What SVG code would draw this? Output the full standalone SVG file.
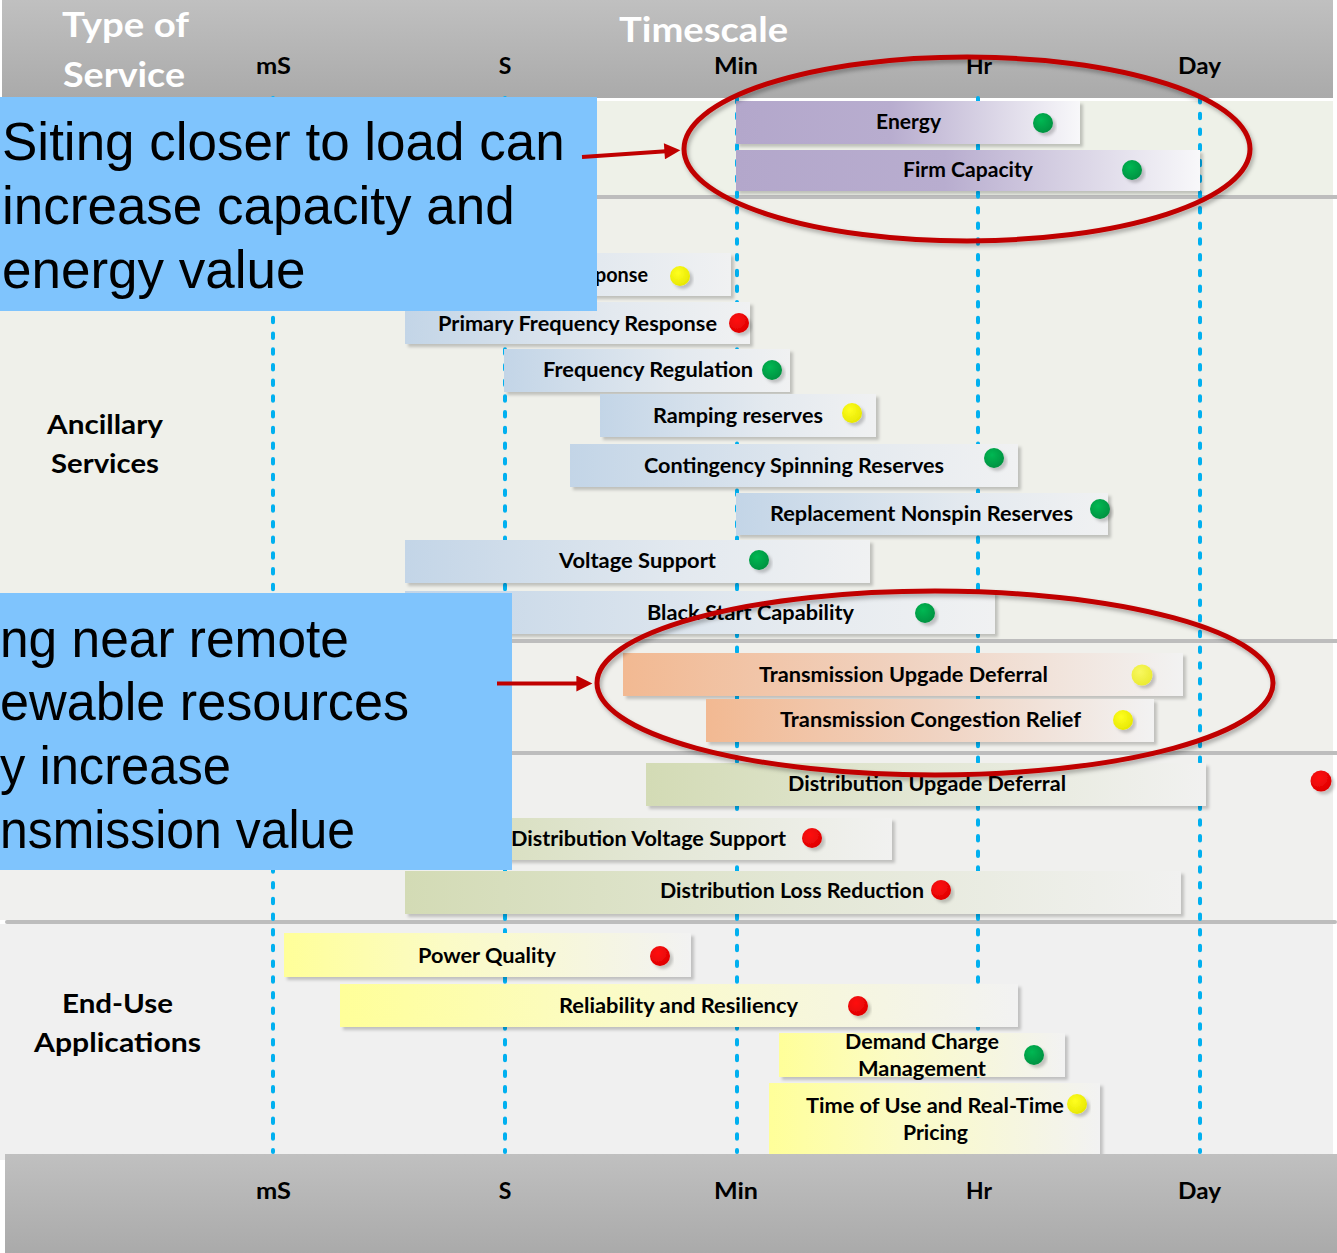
<svg xmlns="http://www.w3.org/2000/svg" width="1337" height="1253" viewBox="0 0 1337 1253">
<style>
.hdr{font-family:Lato,"Liberation Sans",sans-serif;font-weight:700;fill:#ffffff;font-size:34px}
.ax{font-family:Lato,"Liberation Sans",sans-serif;font-weight:700;fill:#000;font-size:23px}
.cat{font-family:Lato,"Liberation Sans",sans-serif;font-weight:700;fill:#000;font-size:27px}
.lbl{font-family:Lato,"Liberation Sans",sans-serif;font-weight:700;fill:#000;font-size:20.5px}
.note{font-family:"Liberation Sans",Arial,sans-serif;fill:#000;font-size:53px}
.sep{fill:#bdbdbd}
.grid{stroke:#00b0f0;stroke-width:4;stroke-linecap:round;stroke-dasharray:4.5 11.2;fill:none}
.bar{filter:url(#sh)}
.ring{fill:none;stroke:#c00000;stroke-width:5;filter:url(#sh2)}
.arrow{stroke:#c00000;stroke-width:4;fill:none;marker-end:url(#ah)}
.box{fill:#7fc4fd}
.dot{filter:url(#sh)}
</style>
<defs>
<linearGradient id="hg" x1="0" y1="0" x2="0" y2="1"><stop offset="0" stop-color="#c0c0c0"/><stop offset="1" stop-color="#aaaaaa"/></linearGradient>
<linearGradient id="gP" x1="0" y1="0" x2="1" y2="0"><stop offset="0" stop-color="#b3a7cb"/><stop offset="0.45" stop-color="#b8adcf"/><stop offset="1" stop-color="#f8f8fa"/></linearGradient>
<linearGradient id="gB" x1="0" y1="0" x2="1" y2="0"><stop offset="0" stop-color="#c3d5e7"/><stop offset="0.6" stop-color="#e3e9ef"/><stop offset="1" stop-color="#f0f1f2"/></linearGradient>
<linearGradient id="gO" x1="0" y1="0" x2="1" y2="0"><stop offset="0" stop-color="#f2b992"/><stop offset="0.5" stop-color="#f0d2c0"/><stop offset="1" stop-color="#f2f2f2"/></linearGradient>
<linearGradient id="gG" x1="0" y1="0" x2="1" y2="0"><stop offset="0" stop-color="#d3dbb5"/><stop offset="0.5" stop-color="#e3e7d5"/><stop offset="1" stop-color="#f1f1f0"/></linearGradient>
<linearGradient id="gY" x1="0" y1="0" x2="1" y2="0"><stop offset="0" stop-color="#ffff99"/><stop offset="0.4" stop-color="#fbfbc6"/><stop offset="1" stop-color="#f2f2f2"/></linearGradient>
<radialGradient id="dG" cx="0.4" cy="0.35" r="0.7"><stop offset="0" stop-color="#00b853"/><stop offset="1" stop-color="#009040"/></radialGradient>
<radialGradient id="dR" cx="0.4" cy="0.35" r="0.7"><stop offset="0" stop-color="#ff1010"/><stop offset="1" stop-color="#dd0000"/></radialGradient>
<radialGradient id="dY" cx="0.4" cy="0.35" r="0.7"><stop offset="0" stop-color="#ffff20"/><stop offset="1" stop-color="#e6e600"/></radialGradient>
<radialGradient id="dY2" cx="0.4" cy="0.35" r="0.7"><stop offset="0" stop-color="#f8f860"/><stop offset="1" stop-color="#eaea30"/></radialGradient>
<filter id="sh" x="-10%" y="-20%" width="130%" height="160%"><feDropShadow dx="3" dy="3" stdDeviation="1.5" flood-color="#000" flood-opacity="0.2"/></filter>
<filter id="sh2" x="-10%" y="-10%" width="130%" height="130%"><feDropShadow dx="2" dy="3" stdDeviation="2" flood-color="#000" flood-opacity="0.3"/></filter>
<marker id="ah" viewBox="0 0 10 10" markerWidth="4.5" markerHeight="4" refX="1" refY="5" orient="auto" markerUnits="strokeWidth"><path d="M0,0 L10,5 L0,10 z" fill="#c00000"/></marker>
</defs>

<rect x="0" y="0" width="1337" height="1253" fill="#ffffff"/>

<g id="frame">
<rect x="2" y="0" width="1331" height="98" fill="url(#hg)"/>
<rect x="0" y="101" width="1333" height="94" fill="#eef1e8"/>
<rect x="0" y="199" width="1333" height="440" fill="#eff0ea"/>
<rect x="0" y="643" width="1333" height="108" fill="#f0f0ec"/>
<rect x="0" y="755" width="1333" height="165" fill="#f0f0ee"/>
<rect x="0" y="924" width="1333" height="236" fill="#f0f0f0"/>
<rect class="sep" x="0" y="195" width="1337" height="4"/>
<rect class="sep" x="0" y="639" width="1337" height="4"/>
<rect class="sep" x="0" y="751" width="1337" height="4"/>
<rect class="sep" x="5" y="920" width="1332" height="4" rx="2"/>
<text class="hdr" x="62" y="37" textLength="127" lengthAdjust="spacingAndGlyphs">Type of</text>
<text class="hdr" x="63" y="87" textLength="122" lengthAdjust="spacingAndGlyphs">Service</text>
<text class="hdr" x="619" y="42" textLength="169" lengthAdjust="spacingAndGlyphs">Timescale</text>
<text class="ax" x="256" y="74" textLength="35" lengthAdjust="spacingAndGlyphs">mS</text>
<text class="ax" x="505" y="74" text-anchor="middle">S</text>
<text class="ax" x="714" y="74" textLength="44" lengthAdjust="spacingAndGlyphs">Min</text>
<text class="ax" x="966" y="74" textLength="26" lengthAdjust="spacingAndGlyphs">Hr</text>
<text class="ax" x="1178" y="74" textLength="43" lengthAdjust="spacingAndGlyphs">Day</text>
<text class="cat" x="47" y="434" textLength="116" lengthAdjust="spacingAndGlyphs">Ancillary</text>
<text class="cat" x="51" y="473" textLength="108" lengthAdjust="spacingAndGlyphs">Services</text>
<text class="cat" x="62" y="1013" textLength="111" lengthAdjust="spacingAndGlyphs">End-Use</text>
<text class="cat" x="34" y="1052" textLength="167" lengthAdjust="spacingAndGlyphs">Applications</text>
</g>

<g id="gridlines">
<line class="grid" x1="273" y1="98" x2="273" y2="1152"/>
<line class="grid" x1="505" y1="98" x2="505" y2="1152"/>
<line class="grid" x1="737" y1="98" x2="737" y2="1152"/>
<line class="grid" x1="978" y1="98" x2="978" y2="1152"/>
<line class="grid" x1="1200" y1="98" x2="1200" y2="1152"/>
</g>

<g id="energy"><rect class="bar" x="736" y="101" width="344" height="43" fill="url(#gP)"/><text class="lbl" x="876" y="129" textLength="65" lengthAdjust="spacingAndGlyphs">Energy</text><circle class="dot" cx="1043" cy="123" r="10" fill="url(#dG)"/></g>
<g id="firm-capacity"><rect class="bar" x="736" y="150" width="464" height="41" fill="url(#gP)"/><text class="lbl" x="903" y="177" textLength="130" lengthAdjust="spacingAndGlyphs">Firm Capacity</text><circle class="dot" cx="1132" cy="170" r="10" fill="url(#dG)"/></g>
<g id="fast-response"><rect class="bar" x="405" y="253" width="326" height="43" fill="url(#gB)"/><text class="lbl" x="595" y="282" textLength="53" lengthAdjust="spacingAndGlyphs">ponse</text><circle class="dot" cx="680" cy="276" r="10" fill="url(#dY)"/></g>
<g id="primary-frequency-response"><rect class="bar" x="405" y="302" width="345" height="42" fill="url(#gB)"/><text class="lbl" x="438" y="331" textLength="279" lengthAdjust="spacingAndGlyphs">Primary Frequency Response</text><circle class="dot" cx="739" cy="323" r="10" fill="url(#dR)"/></g>
<g id="frequency-regulation"><rect class="bar" x="504" y="349" width="286" height="43" fill="url(#gB)"/><text class="lbl" x="543" y="377" textLength="210" lengthAdjust="spacingAndGlyphs">Frequency Regulation</text><circle class="dot" cx="772" cy="370" r="10" fill="url(#dG)"/></g>
<g id="ramping-reserves"><rect class="bar" x="600" y="394" width="276" height="43" fill="url(#gB)"/><text class="lbl" x="653" y="423" textLength="170" lengthAdjust="spacingAndGlyphs">Ramping reserves</text><circle class="dot" cx="852" cy="413" r="10" fill="url(#dY)"/></g>
<g id="contingency-spinning"><rect class="bar" x="570" y="444" width="448" height="43" fill="url(#gB)"/><text class="lbl" x="644" y="473" textLength="300" lengthAdjust="spacingAndGlyphs">Contingency Spinning Reserves</text><circle class="dot" cx="994" cy="458" r="10" fill="url(#dG)"/></g>
<g id="replacement-nonspin"><rect class="bar" x="736" y="493" width="372" height="42" fill="url(#gB)"/><text class="lbl" x="770" y="521" textLength="303" lengthAdjust="spacingAndGlyphs">Replacement Nonspin Reserves</text><circle class="dot" cx="1100" cy="509" r="10" fill="url(#dG)"/></g>
<g id="voltage-support"><rect class="bar" x="405" y="540" width="465" height="43" fill="url(#gB)"/><text class="lbl" x="559" y="568" textLength="157" lengthAdjust="spacingAndGlyphs">Voltage Support</text><circle class="dot" cx="759" cy="560" r="10" fill="url(#dG)"/></g>
<g id="black-start"><rect class="bar" x="405" y="591" width="590" height="43" fill="url(#gB)"/><text class="lbl" x="647" y="620" textLength="207" lengthAdjust="spacingAndGlyphs">Black Start Capability</text><circle class="dot" cx="925" cy="613" r="10" fill="url(#dG)"/></g>
<g id="transmission-upgrade"><rect class="bar" x="623" y="653" width="560" height="43" fill="url(#gO)"/><text class="lbl" x="759" y="682" textLength="289" lengthAdjust="spacingAndGlyphs">Transmission Upgade Deferral</text><circle class="dot" cx="1142" cy="675" r="10.5" fill="url(#dY2)"/></g>
<g id="transmission-congestion"><rect class="bar" x="706" y="699" width="448" height="43" fill="url(#gO)"/><text class="lbl" x="780" y="727" textLength="301" lengthAdjust="spacingAndGlyphs">Transmission Congestion Relief</text><circle class="dot" cx="1123" cy="720" r="10" fill="url(#dY)"/></g>
<g id="distribution-upgrade"><rect class="bar" x="646" y="763" width="560" height="43" fill="url(#gG)"/><text class="lbl" x="788" y="791" textLength="278" lengthAdjust="spacingAndGlyphs">Distribution Upgade Deferral</text><circle class="dot" cx="1321" cy="781" r="10.5" fill="url(#dR)"/></g>
<g id="distribution-voltage"><rect class="bar" x="405" y="818" width="487" height="42" fill="url(#gG)"/><text class="lbl" x="511" y="846" textLength="275" lengthAdjust="spacingAndGlyphs">Distribution Voltage Support</text><circle class="dot" cx="812" cy="838" r="10" fill="url(#dR)"/></g>
<g id="distribution-loss"><rect class="bar" x="405" y="871" width="776" height="43" fill="url(#gG)"/><text class="lbl" x="660" y="898" textLength="264" lengthAdjust="spacingAndGlyphs">Distribution Loss Reduction</text><circle class="dot" cx="941" cy="890" r="10" fill="url(#dR)"/></g>
<g id="power-quality"><rect class="bar" x="284" y="933" width="407" height="44" fill="url(#gY)"/><text class="lbl" x="418" y="963" textLength="138" lengthAdjust="spacingAndGlyphs">Power Quality</text><circle class="dot" cx="660" cy="956" r="10" fill="url(#dR)"/></g>
<g id="reliability"><rect class="bar" x="340" y="984" width="678" height="43" fill="url(#gY)"/><text class="lbl" x="559" y="1013" textLength="239" lengthAdjust="spacingAndGlyphs">Reliability and Resiliency</text><circle class="dot" cx="858" cy="1006" r="10" fill="url(#dR)"/></g>
<g id="demand-charge"><rect class="bar" x="779" y="1033" width="286" height="44" fill="url(#gY)"/><text class="lbl" x="845" y="1049" textLength="154" lengthAdjust="spacingAndGlyphs">Demand Charge</text><text class="lbl" x="858" y="1076" textLength="128" lengthAdjust="spacingAndGlyphs">Management</text><circle class="dot" cx="1034" cy="1055" r="10" fill="url(#dG)"/></g>
<g id="time-of-use"><rect class="bar" x="769" y="1083" width="331" height="75" fill="url(#gY)"/><text class="lbl" x="806" y="1113" textLength="258" lengthAdjust="spacingAndGlyphs">Time of Use and Real-Time</text><text class="lbl" x="903" y="1140" textLength="65" lengthAdjust="spacingAndGlyphs">Pricing</text><circle class="dot" cx="1077" cy="1104" r="10" fill="url(#dY)"/></g>

<g id="bottom-axis">
<rect x="5" y="1154" width="1332" height="99" fill="url(#hg)"/>
<text class="ax" x="256" y="1199" textLength="35" lengthAdjust="spacingAndGlyphs">mS</text>
<text class="ax" x="505" y="1199" text-anchor="middle">S</text>
<text class="ax" x="714" y="1199" textLength="44" lengthAdjust="spacingAndGlyphs">Min</text>
<text class="ax" x="966" y="1199" textLength="26" lengthAdjust="spacingAndGlyphs">Hr</text>
<text class="ax" x="1178" y="1199" textLength="43" lengthAdjust="spacingAndGlyphs">Day</text>
</g>

<g id="highlight-bulk"><ellipse class="ring" cx="967" cy="149" rx="283" ry="92"/></g>
<g id="highlight-transmission"><ellipse class="ring" cx="935" cy="683" rx="338" ry="92"/></g>

<g id="note-load">
<rect class="box" x="0" y="97" width="597" height="214"/>
<text class="note" x="2" y="160">Siting closer to load can</text>
<text class="note" x="2" y="224">increase capacity and</text>
<text class="note" x="2" y="288">energy value</text>
</g>
<g id="note-remote">
<rect class="box" x="0" y="593" width="512" height="277"/>
<text class="note" x="0" y="657" textLength="349" lengthAdjust="spacingAndGlyphs">ng near remote</text>
<text class="note" x="0" y="720" textLength="409" lengthAdjust="spacingAndGlyphs">ewable resources</text>
<text class="note" x="0" y="784" textLength="231" lengthAdjust="spacingAndGlyphs">y increase</text>
<text class="note" x="0" y="848" textLength="355" lengthAdjust="spacingAndGlyphs">nsmission value</text>
</g>

<g id="connectors">
<line class="arrow" x1="582" y1="157" x2="666" y2="151.2"/>
<line class="arrow" x1="497" y1="683.5" x2="578" y2="683.5"/>
</g>
</svg>
